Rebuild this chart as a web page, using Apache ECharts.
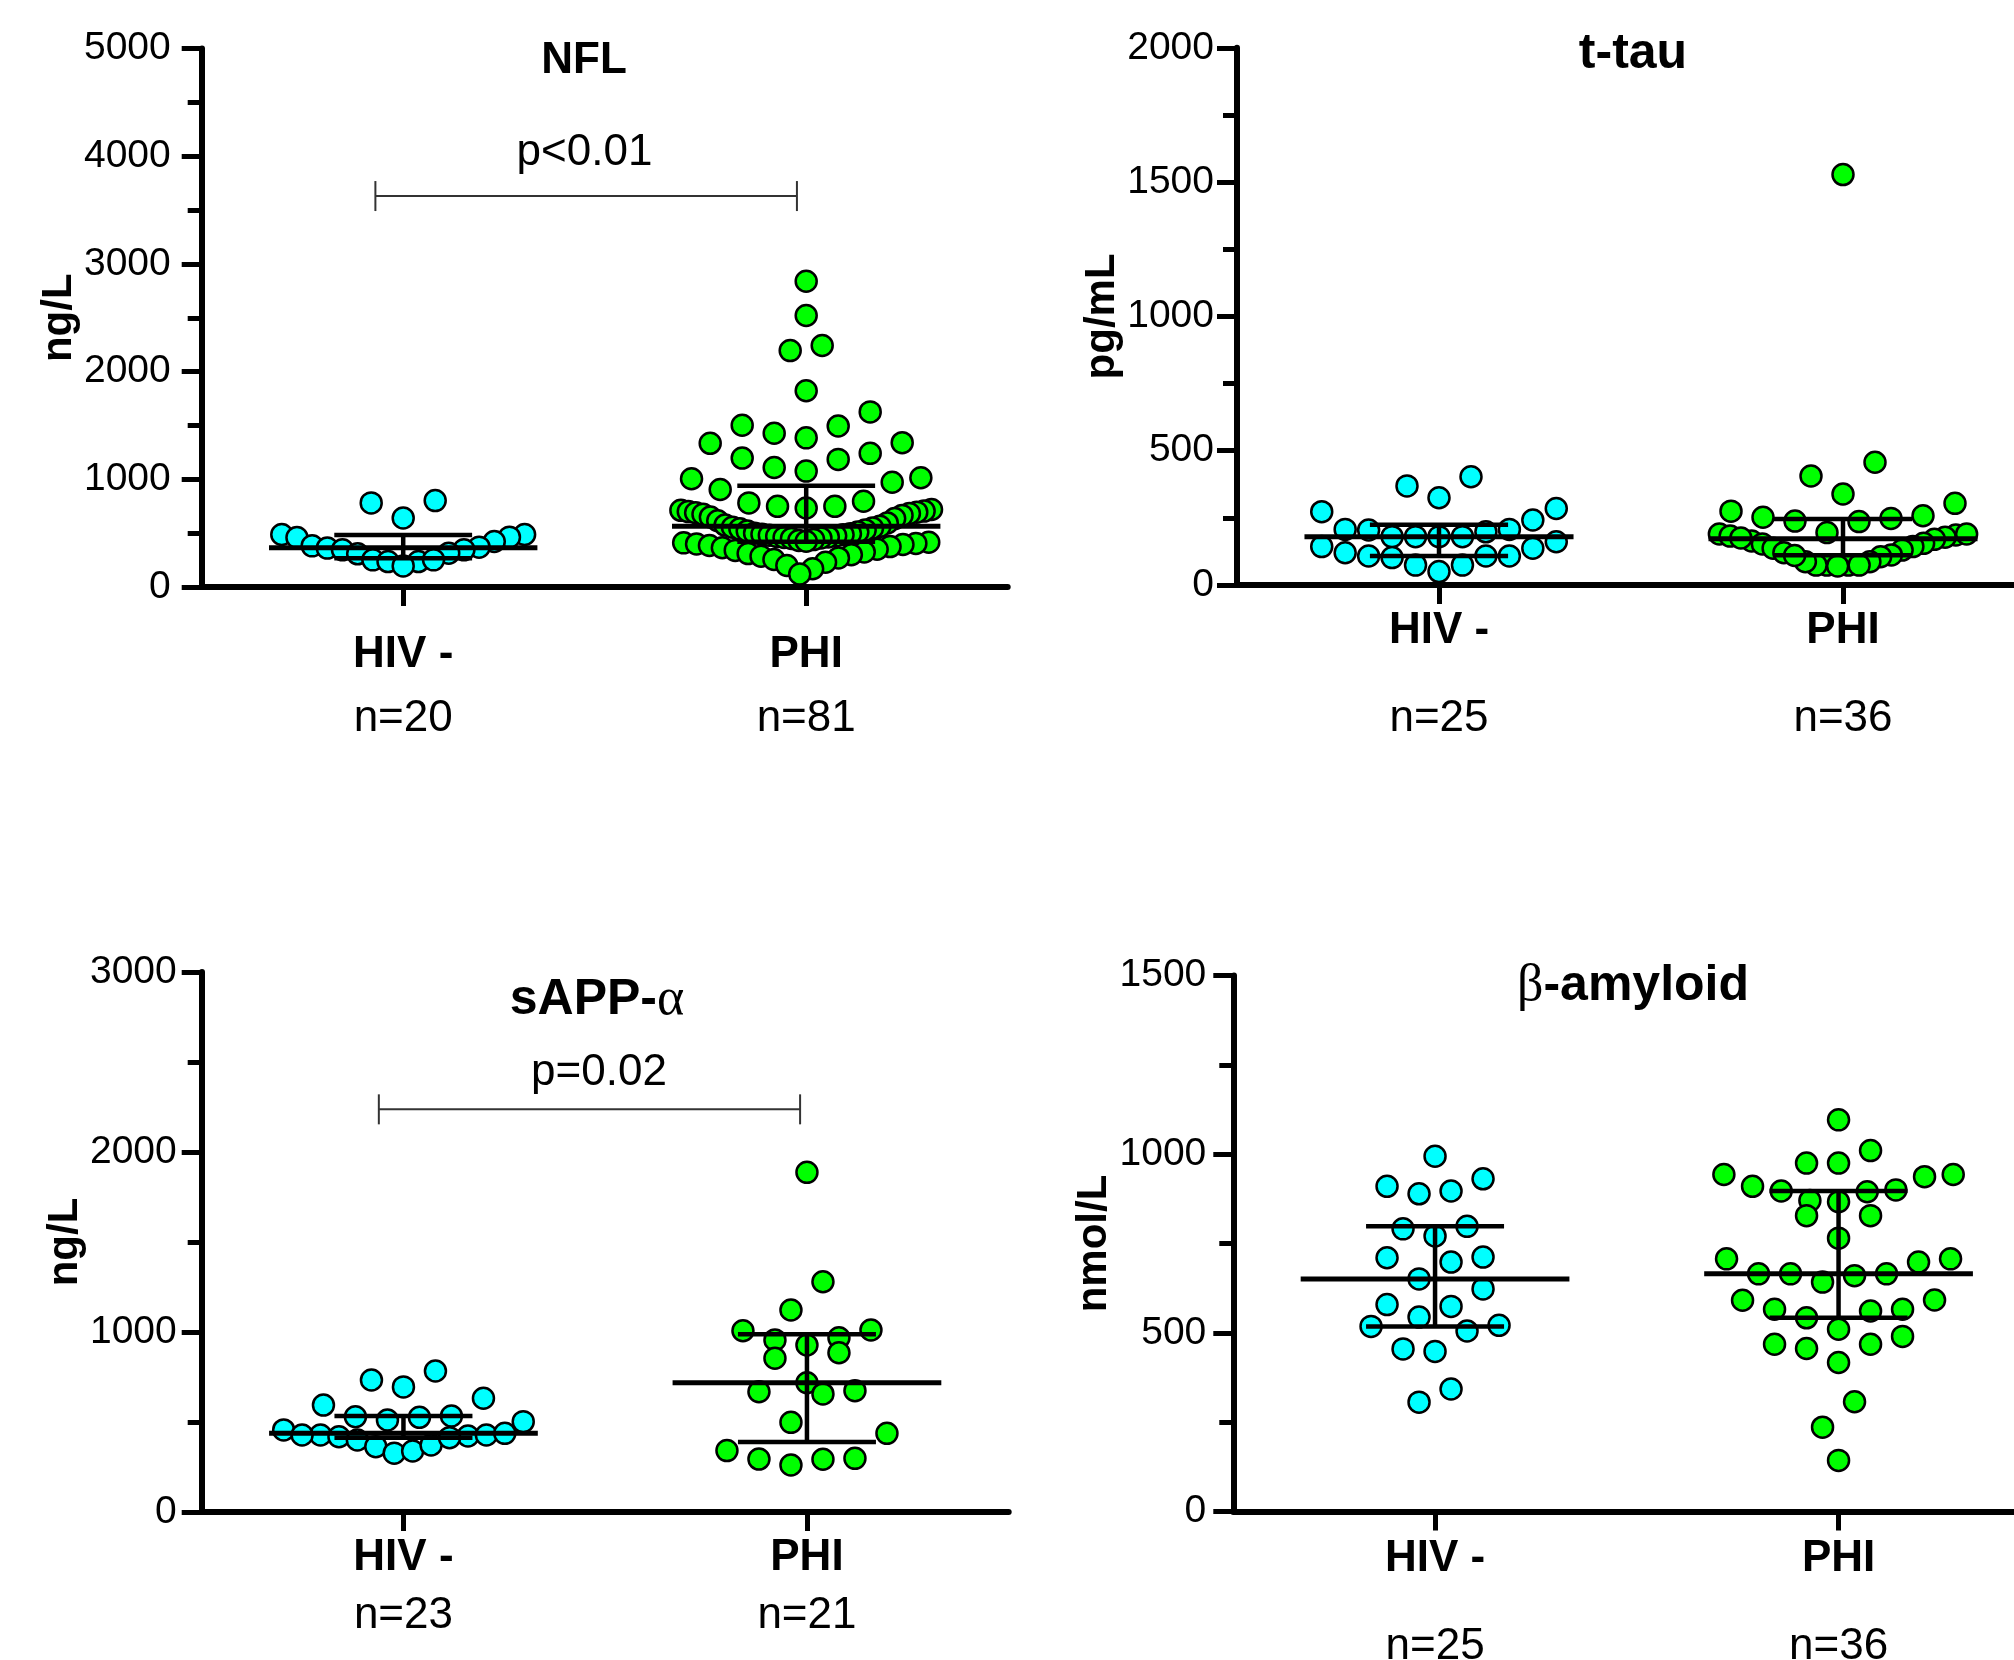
<!DOCTYPE html>
<html>
<head>
<meta charset="utf-8">
<script src="https://cdn.jsdelivr.net/npm/echarts@6/dist/echarts.min.js"></script>
<style>
  html, body { margin: 0; padding: 0; background: #ffffff; }
  #chart { width: 2014px; height: 1660px; }
</style>
</head>
<body>
<div id="chart"></div>
<script>
// Groups shown on every panel
const groups = ['HIV -', 'PHI'];

// Neurofilament light (ng/L)
const nflHivNeg = [781, 802, 641, 488, 488, 460, 463, 423, 382, 370, 361, 345, 345, 314, 308, 252, 236, 236, 252, 196];
const nflPhi = [
  2839, 2521, 2242, 2195, 1822, 1626, 1502, 1495, 1427, 1385, 1340, 1334, 1241, 1197, 1185, 1110, 1076, 1014, 1005, 973,
  905, 796, 781, 749, 749, 734, 720, 712, 705, 700, 695, 690, 682, 675, 665, 650, 635, 615, 595, 575,
  563,
  555, 548, 540, 530, 520, 510, 500, 495, 490, 485, 480, 475, 470, 465, 460, 455, 450, 440, 432, 425,
  415, 410, 405, 400, 395, 385, 375, 365, 350, 340, 325, 310, 300, 285, 270, 255, 230, 200, 170, 121
];
const nflCounts = ['n=20', 'n=81'];

// Total tau (pg/mL)
const ttauHivNeg = [403, 369, 325, 273, 285, 242, 207, 205, 207, 198, 180, 180, 180, 180, 161, 143, 137, 120, 108, 108, 102, 108, 74, 74, 50];
const ttauPhi = [1528, 457, 406, 339, 304, 275, 258, 248, 236, 238, 252, 190, 195, 186, 178, 164, 153, 190, 182, 170,
  155, 143, 137, 130, 112, 120, 105, 87, 74, 74, 71, 74, 74, 87, 110, 175];
const ttauCounts = ['n=25', 'n=36'];

// Soluble APP-alpha (ng/L)
const sappHivNeg = [783, 733, 695, 632, 594, 502, 533, 526, 511, 529, 456, 428, 422, 418, 400, 363, 327, 339, 372, 413, 428, 428, 437];
const sappPhi = [1887, 1279, 1122, 1007, 1011, 956, 968, 928, 885, 854, 718, 674, 656, 668, 498, 437, 341, 294, 261, 293, 298];
const sappCounts = ['n=23', 'n=21'];

// Beta-amyloid (nmol/L)
const abetaHivNeg = [994, 931, 910, 897, 889, 798, 791, 771, 712, 710, 698, 651, 623, 579, 574, 544, 518, 521, 505, 455, 448, 343, 306];
const abetaPhi = [1096, 1010, 975, 975, 943, 937, 943, 910, 897, 895, 900, 867, 870, 828, 828, 765, 707, 707, 698, 665,
  665, 660, 665, 642, 591, 592, 566, 566, 561, 542, 510, 490, 468, 456, 468, 417, 307, 236, 143];
const abetaCounts = ['n=25', 'n=36'];

const SANS = "'Liberation Sans', Arial, Helvetica, sans-serif";
const SERIF = "'Liberation Serif', 'Times New Roman', serif";
const groupColors = ['#00FFFF', '#00FF00'];

const panels = [
  {
    title: '{b|NFL}', titleSize: 44, titleAt: [584, 61], yName: 'ng/L', yMax: 5000, yStep: 1000,
    groups: [nflHivNeg, nflPhi], counts: nflCounts,
    grid: { left: 201.7, top: 48.5, width: 806, height: 538.5 },
    tickLabelMargin: 31, nameGap: 117, catMargin: 36, catLine: 64,
    pText: 'p<0.01', pAt: [584.5, 153], bracket: [0.431, 1.477, 3630]
  },
  {
    title: '{b|t-tau}', titleSize: 50, titleAt: [1633, 54], yName: 'pg/mL', yMax: 2000, yStep: 500,
    groups: [ttauHivNeg, ttauPhi], counts: ttauCounts,
    grid: { left: 1237, top: 47.8, width: 808, height: 537.2 },
    tickLabelMargin: 23, nameGap: 110, catMargin: 2, catLine: 88
  },
  {
    title: '{b|sAPP-}{g|α}', titleSize: 50, titleAt: [597, 1000], yName: 'ng/L', yMax: 3000, yStep: 1000,
    groups: [sappHivNeg, sappPhi], counts: sappCounts,
    grid: { left: 201.7, top: 972, width: 807, height: 540 },
    tickLabelMargin: 25, nameGap: 101, catMargin: 17, catLine: 58,
    pText: 'p=0.02', pAt: [599, 1072.7], bracket: [0.439, 1.483, 2237]
  },
  {
    title: '{g|β}{b|-amyloid}', titleSize: 50, titleAt: [1633, 986], yName: 'nmol/L', yMax: 1500, yStep: 500,
    groups: [abetaHivNeg, abetaPhi], counts: abetaCounts,
    grid: { left: 1233.3, top: 975.5, width: 807, height: 536 },
    tickLabelMargin: 27, nameGap: 107, catMargin: 3.5, catLine: 88
  }
];

// Quantile by the (n+1)p rule
function quantile(sorted, p) {
  const pos = (sorted.length + 1) * p;
  const lo = Math.floor(pos);
  const frac = pos - lo;
  if (lo < 1) return sorted[0];
  if (lo >= sorted.length) return sorted[sorted.length - 1];
  return sorted[lo - 1] + frac * (sorted[lo] - sorted[lo - 1]);
}

// Scatter-dot layout: points are taken in ascending order and grouped into rows
// whose height is about one and a half symbols; each row is spread around the
// group centre, lowest value in the middle, within a fixed maximum width.
function rowOffsets(values, pxPerUnit) {
  const ROW_PX = 32.3, STEP_PX = 32, SPAN_PX = 258;
  const order = values.map((v, i) => i).sort((a, b) => values[a] - values[b]);
  const offsets = new Array(values.length);
  let start = 0;
  while (start < order.length) {
    const base = values[order[start]];
    let end = start;
    while (end < order.length && (values[order[end]] - base) * pxPerUnit < ROW_PX) end++;
    const n = end - start;
    const step = Math.min(STEP_PX, SPAN_PX / n);
    for (let i = 0; i < n; i++) {
      let slot;
      if (n % 2) slot = i === 0 ? 0 : (i % 2 ? -(i + 1) / 2 : i / 2);
      else slot = (i % 2 ? 1 : -1) * (Math.floor(i / 2) + 0.5);
      offsets[order[start + i]] = slot * step;
    }
    start = end;
  }
  return offsets;
}

const chart = echarts.init(document.getElementById('chart'), null, { renderer: 'canvas' });

const baseOption = {
  animation: false,
  backgroundColor: '#ffffff',
  grid: panels.map(p => Object.assign({ outerBoundsMode: 'none', containLabel: false }, p.grid)),
  xAxis: [
    ...panels.map((p, i) => ({
      type: 'category', gridIndex: i, data: groups, boundaryGap: true, position: 'bottom',
      axisLine: { show: true, lineStyle: { color: '#000', width: 6 } },
      axisTick: { show: true, alignWithLabel: true, interval: 0, length: 19, lineStyle: { color: '#000', width: 5 } },
      axisLabel: {
        interval: 0, margin: p.catMargin, color: '#000',
        formatter: (v, idx) => '{g|' + v + '}\n{n|' + p.counts[idx] + '}',
        rich: {
          g: { fontFamily: SANS, fontSize: 44, fontWeight: 'bold', color: '#000', lineHeight: p.catLine },
          n: { fontFamily: SANS, fontSize: 44, color: '#000', lineHeight: p.catLine }
        }
      },
      splitLine: { show: false }
    })),
    ...panels.map((p, i) => ({ type: 'value', gridIndex: i, min: 0, max: 2, show: false, position: 'top' }))
  ],
  yAxis: panels.map((p, i) => ({
    type: 'value', gridIndex: i, min: 0, max: p.yMax, interval: p.yStep,
    name: p.yName, nameLocation: 'middle', nameRotate: 90, nameGap: p.nameGap,
    nameTextStyle: { fontFamily: SANS, fontSize: 42, fontWeight: 'bold', color: '#000' },
    axisLine: { show: true, lineStyle: { color: '#000', width: 6 } },
    axisTick: { show: true, length: 20, lineStyle: { color: '#000', width: 5 } },
    minorTick: { show: true, splitNumber: 2, length: 14, lineStyle: { color: '#000', width: 5 } },
    axisLabel: { margin: p.tickLabelMargin, fontFamily: SANS, fontSize: 39, color: '#000', formatter: v => String(v) },
    splitLine: { show: false },
    minorSplitLine: { show: false }
  })),
  graphic: [
    ...panels.map(p => ({
      type: 'text', x: p.titleAt[0], y: p.titleAt[1], z: 100,
      style: {
        text: p.title, align: 'center', verticalAlign: 'middle',
        textAlign: 'center', textVerticalAlign: 'middle',
        rich: {
          b: { fontFamily: SANS, fontSize: p.titleSize, fontWeight: 'bold', fill: '#000' },
          g: { fontFamily: SERIF, fontSize: p.titleSize + 2, fontWeight: 'normal', fill: '#000' }
        }
      }
    })),
    ...panels.filter(p => p.pText).map(p => ({
      type: 'text', x: p.pAt[0], y: p.pAt[1], z: 100,
      style: {
        text: p.pText, fill: '#000', font: '44px ' + SANS,
        align: 'center', verticalAlign: 'middle', textAlign: 'center', textVerticalAlign: 'middle'
      }
    }))
  ],
  series: []
};

chart.setOption(baseOption);

const series = [];
panels.forEach((p, i) => {
  const xAxisIndex = panels.length + i;
  const pxPerY = Math.abs(chart.convertToPixel({ yAxisIndex: i }, p.yMax) - chart.convertToPixel({ yAxisIndex: i }, 0)) / p.yMax;
  const pxPerX = Math.abs(chart.convertToPixel({ xAxisIndex: xAxisIndex }, 2) - chart.convertToPixel({ xAxisIndex: xAxisIndex }, 0)) / 2;
  const stats = [];

  p.groups.forEach((values, g) => {
    const offsets = rowOffsets(values, pxPerY);
    const centre = g + 0.5;
    series.push({
      type: 'scatter', xAxisIndex: xAxisIndex, yAxisIndex: i, z: 2,
      symbol: 'circle', symbolSize: 21,
      itemStyle: { color: groupColors[g], borderColor: '#000', borderWidth: 2.5, opacity: 1 },
      emphasis: { disabled: true },
      data: values.map((v, k) => [centre + offsets[k] / pxPerX, v])
    });
    const sorted = values.slice().sort((a, b) => a - b);
    stats.push([centre, quantile(sorted, 0.5), quantile(sorted, 0.25), quantile(sorted, 0.75)]);
  });

  // Median with interquartile range
  series.push({
    type: 'custom', xAxisIndex: xAxisIndex, yAxisIndex: i, z: 5,
    encode: { x: 0, y: [1, 2, 3] },
    data: stats,
    renderItem: (params, api) => {
      const x = api.value(0), med = api.value(1), q1 = api.value(2), q3 = api.value(3);
      const half = 0.333, bar = 0.171;
      const m0 = api.coord([x - half, med]), m1 = api.coord([x + half, med]);
      const a0 = api.coord([x - bar, q1]), a1 = api.coord([x + bar, q1]);
      const b0 = api.coord([x - bar, q3]), b1 = api.coord([x + bar, q3]);
      const c0 = api.coord([x, q1]), c1 = api.coord([x, q3]);
      const seg = (s, e, w) => ({ type: 'line', shape: { x1: s[0], y1: s[1], x2: e[0], y2: e[1] }, style: { stroke: '#000', lineWidth: w } });
      return { type: 'group', children: [seg(c0, c1, 4.5), seg(a0, a1, 4.5), seg(b0, b1, 4.5), seg(m0, m1, 5)] };
    }
  });

  // Significance bracket
  if (p.bracket) {
    series.push({
      type: 'custom', xAxisIndex: xAxisIndex, yAxisIndex: i, z: 5,
      encode: { x: [0, 1], y: 2 },
      data: [p.bracket],
      renderItem: (params, api) => {
        const l = api.coord([api.value(0), api.value(2)]);
        const r = api.coord([api.value(1), api.value(2)]);
        const st = { stroke: '#333', lineWidth: 2 };
        return { type: 'group', children: [
          { type: 'line', shape: { x1: l[0], y1: l[1], x2: r[0], y2: r[1] }, style: st },
          { type: 'line', shape: { x1: l[0], y1: l[1] - 15, x2: l[0], y2: l[1] + 15 }, style: st },
          { type: 'line', shape: { x1: r[0], y1: r[1] - 15, x2: r[0], y2: r[1] + 15 }, style: st }
        ] };
      }
    });
  }
});

chart.setOption({ series: series });
</script>
</body>
</html>
